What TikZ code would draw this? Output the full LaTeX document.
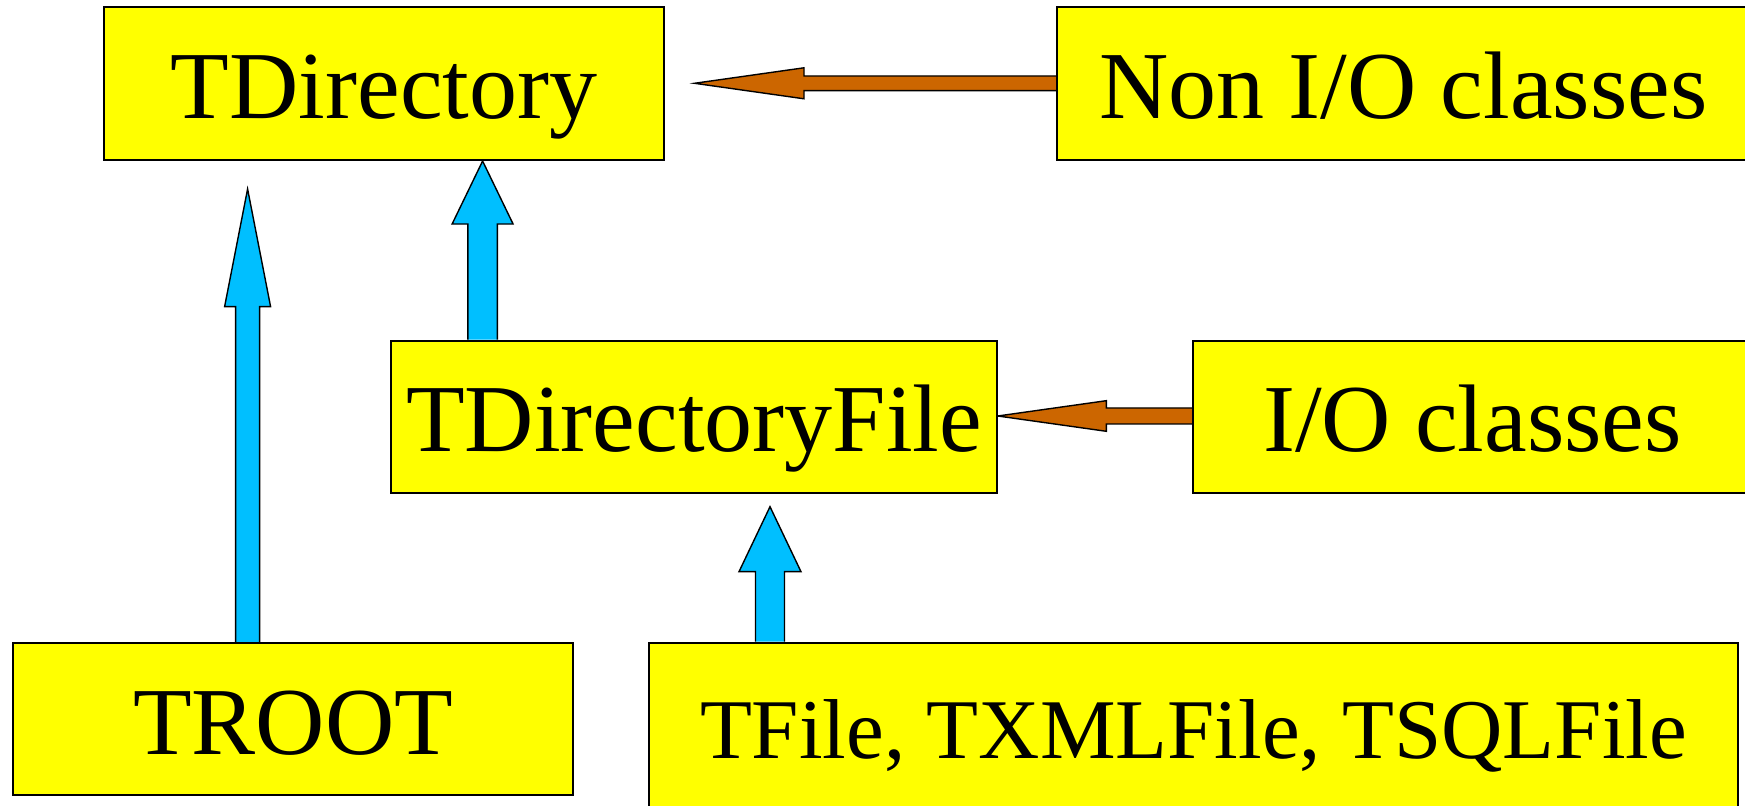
\documentclass[tikz,border=0pt]{standalone}
\usepackage{fontspec}
\setmainfont{Liberation Serif}
\usetikzlibrary{calc,backgrounds}
\definecolor{boxyellow}{HTML}{FFFF00}
\definecolor{inhblue}{HTML}{00BFFF}
\definecolor{iobrown}{HTML}{CC6600}
\tikzset{
  classbox/.style={draw=black, line width=1pt, fill=boxyellow, inner sep=0pt,
    font=\fontsize{48pt}{56pt}\selectfont, text height=35.3pt, text depth=0pt},
  blockarrow/.style={draw=black, line width=0.7pt, line join=miter},
}
\newcommand{\uparr}[6]{%
  \filldraw[blockarrow, fill=#6] ($(#1)+(-#3,0)$) -- ($(#2)+(-#3,#5)$) -- ($(#2)+(-#4,#5)$) -- (#2)
    -- ($(#2)+(#4,#5)$) -- ($(#2)+(#3,#5)$) -- ($(#1)+(#3,0)$);
}
\newcommand{\leftarr}[6]{%
  \filldraw[blockarrow, fill=#6] ($(#1)+(0,-#3)$) -- ($(#2)+(#5,-#3)$) -- ($(#2)+(#5,-#4)$) -- (#2)
    -- ($(#2)+(#5,#4)$) -- ($(#2)+(#5,#3)$) -- ($(#1)+(0,#3)$);
}
\begin{document}
\begin{tikzpicture}[x=0.5pt,y=-0.5pt]
\useasboundingbox (0,0) rectangle (1745,806);
\clip (0,0) rectangle (1745,806);

\node[classbox, minimum width=280pt, minimum height=76.35pt] (tdir) at (384,83.7) {TDirectory};
\node[classbox, minimum width=346.5pt, minimum height=76.35pt] (nonio) at (1403.5,83.7) {Non I/O classes};
\node[classbox, minimum width=302.7pt, minimum height=76pt] (tdf) at (694.1,416.7) {TDirectoryFile};
\node[classbox, minimum width=279.5pt, minimum height=76pt] (io) at (1472.5,416.7) {I/O classes};
\node[classbox, minimum width=279.8pt, minimum height=76.15pt] (troot) at (293.2,718.9) {TROOT};
\node[classbox, minimum width=544.75pt, minimum height=85pt, text height=30.6pt,
      font=\fontsize{42.5pt}{50pt}\selectfont] (files) at (1193.5,727.7) {TFile, TXMLFile, TSQLFile};

\path (482.6,0) coordinate (xA) (247.6,0) coordinate (xB) (770,0) coordinate (xC)
      (0,83.3) coordinate (yD) (0,416) coordinate (yE);
\coordinate (tipB) at (247.6,189);
\coordinate (tipC) at (770,506.7);
\coordinate (tipD) at (694.5,83.3);

\begin{scope}[on background layer]
  \fill[white] (0,0) rectangle (1745,806);
  \uparr{tdf.north -| xA}{tdir.south -| xA}{14.7}{30.5}{63}{inhblue}
  \uparr{troot.north -| xB}{tipB}{12}{23}{117.7}{inhblue}
  \uparr{files.north -| xC}{tipC}{14.5}{31}{65}{inhblue}
  \leftarr{nonio.west |- yD}{tipD}{7.3}{15.5}{109.5}{iobrown}
  \leftarr{io.west |- yE}{tdf.east |- yE}{8}{15.3}{108.5}{iobrown}
\end{scope}
\end{tikzpicture}
\end{document}
